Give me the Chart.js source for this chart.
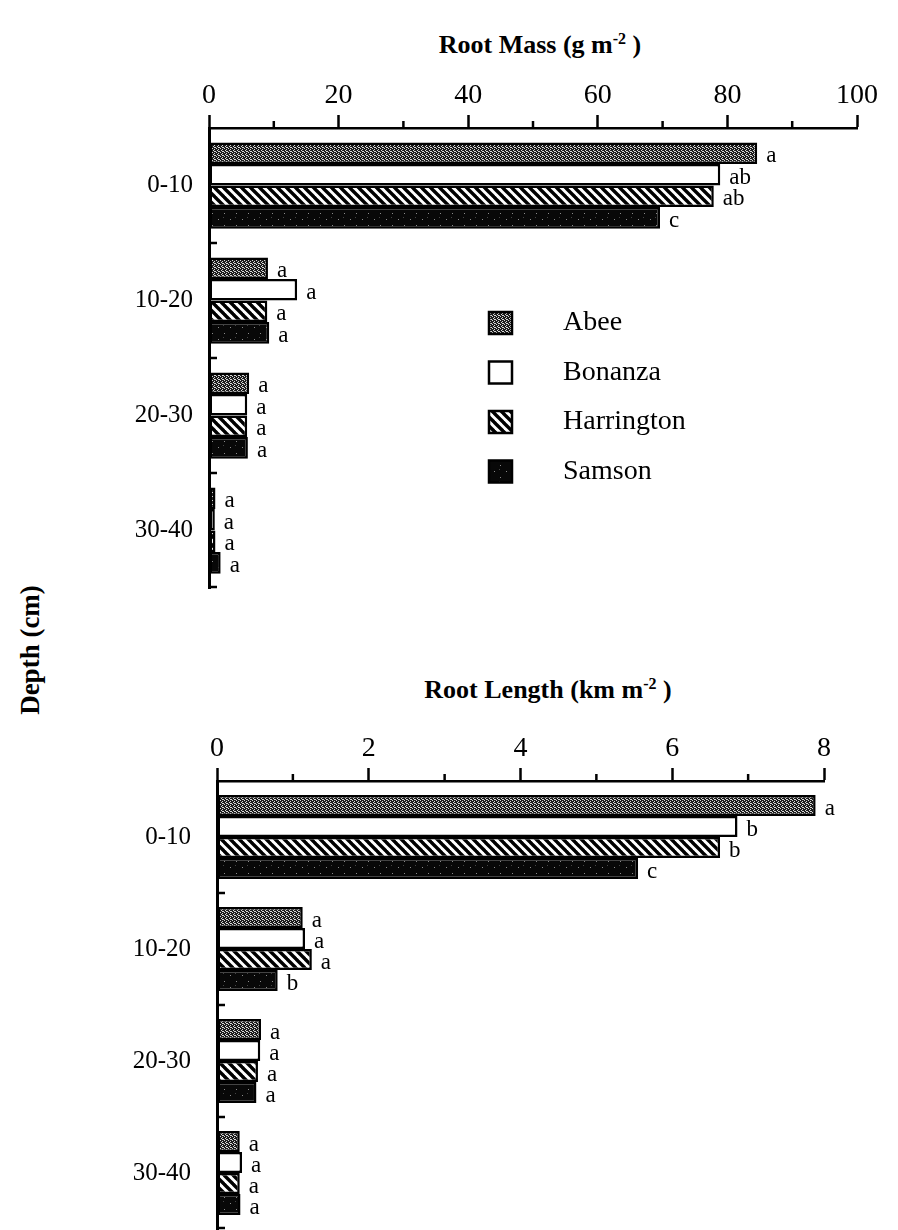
<!DOCTYPE html>
<html>
<head>
<meta charset="utf-8">
<title>Root mass and root length by depth</title>
<script src="https://cdn.jsdelivr.net/npm/chart.js@4.4.1/dist/chart.umd.min.js"></script>
<style>
  body { margin: 0; background: #fff; }
  #page { position: relative; width: 898px; height: 1230px; overflow: hidden;
          font-family: 'Liberation Serif', 'Times New Roman', serif; color: #000; }
  .title { position: absolute; transform: translate(-50%, -50%); font-weight: bold;
           font-size: 26px; white-space: nowrap; }
  .title sup { font-size: 16px; }
  #depth { position: absolute; left: 30px; top: 650px; transform: translate(-50%, -50%) rotate(-90deg);
           font-weight: bold; font-size: 27px; white-space: nowrap; }
  canvas { position: absolute; left: 0; }
</style>
</head>
<body>
<div id="page">
  <div class="title" style="left:540px;top:45px">Root Mass (g m<sup>-2</sup> )</div>
  <div class="title" style="left:548px;top:690px">Root Length (km m<sup>-2</sup> )</div>
  <div id="depth">Depth (cm)</div>
  <canvas id="mass" width="898" height="600" style="top:0"></canvas>
  <canvas id="length" width="898" height="630" style="top:600px"></canvas>
</div>
<script>
const depths = ['0-10', '10-20', '20-30', '30-40'];
const cultivars = ['Abee', 'Bonanza', 'Harrington', 'Samson'];

// root mass, g m-2
const massAbee = [84.6, 9.1, 6.2, 1.0];
const massBonanza = [78.9, 13.6, 5.9, 0.9];
const massHarrington = [77.9, 9.0, 5.9, 1.0];
const massSamson = [69.6, 9.3, 6.0, 1.8];

// root length, km m-2
const lengthAbee = [7.89, 1.13, 0.58, 0.30];
const lengthBonanza = [6.86, 1.16, 0.57, 0.33];
const lengthHarrington = [6.63, 1.25, 0.54, 0.30];
const lengthSamson = [5.55, 0.80, 0.52, 0.31];

// significance letters
const massLetters = [
  ['a', 'a', 'a', 'a'],
  ['ab', 'a', 'a', 'a'],
  ['ab', 'a', 'a', 'a'],
  ['c', 'a', 'a', 'a'],
];
const lengthLetters = [
  ['a', 'a', 'a', 'a'],
  ['b', 'a', 'a', 'a'],
  ['b', 'a', 'a', 'a'],
  ['c', 'b', 'a', 'a'],
];

const SERIF = "'Liberation Serif', 'Times New Roman', serif";

function tile(size, paint) {
  const c = document.createElement('canvas');
  c.width = size;
  c.height = size;
  paint(c.getContext('2d'));
  return document.createElement('canvas').getContext('2d').createPattern(c, 'repeat');
}

const stipple = tile(4, (g) => {
  g.fillStyle = '#1c1c1c';
  g.fillRect(0, 0, 4, 4);
  g.fillStyle = '#d8d8d8';
  [[0, 0], [2, 1], [1, 2], [3, 3], [2, 3]].forEach(([x, y]) => g.fillRect(x, y, 1, 1));
});
const hatch = tile(9, (g) => {
  g.fillStyle = '#fff';
  g.fillRect(0, 0, 9, 9);
  g.strokeStyle = '#000';
  g.lineWidth = 3.4;
  for (let k = -1; k <= 1; k++) {
    g.beginPath();
    g.moveTo(k * 9 - 1, -1);
    g.lineTo(k * 9 + 10, 10);
    g.stroke();
  }
});
const speckle = tile(12, (g) => {
  g.fillStyle = '#080808';
  g.fillRect(0, 0, 12, 12);
  g.fillStyle = '#8a8a8a';
  g.fillRect(2, 3, 1, 1);
  g.fillRect(8, 9, 1, 1);
  g.fillStyle = '#444';
  g.fillRect(7, 1, 1, 1);
});
const fills = [stipple, '#fff', hatch, speckle];

// short ticks: minor x ticks and inner ticks between depth groups
const axisTicks = {
  id: 'axisTicks',
  afterDraw(chart, args, opts) {
    const ctx = chart.ctx;
    const x = chart.scales.x;
    const y = chart.scales.y;
    const area = chart.chartArea;
    ctx.save();
    ctx.strokeStyle = '#000';
    ctx.lineWidth = 2.5;
    x.ticks.forEach((t) => {
      if (t.value % opts.major === 0) return;
      const px = x.getPixelForValue(t.value);
      ctx.beginPath();
      ctx.moveTo(px, area.top);
      ctx.lineTo(px, area.top - 7);
      ctx.stroke();
    });
    for (let i = 1; i <= depths.length; i++) {
      const py = i < depths.length
        ? (y.getPixelForValue(i - 1) + y.getPixelForValue(i)) / 2
        : area.bottom - 1;
      ctx.beginPath();
      ctx.moveTo(area.left, py);
      ctx.lineTo(area.left + 8, py);
      ctx.stroke();
    }
    ctx.restore();
  },
};

const barLetters = {
  id: 'barLetters',
  afterDatasetsDraw(chart) {
    const ctx = chart.ctx;
    ctx.save();
    ctx.fillStyle = '#000';
    ctx.font = '23px ' + SERIF;
    ctx.textAlign = 'left';
    ctx.textBaseline = 'middle';
    chart.data.datasets.forEach((ds, i) => {
      chart.getDatasetMeta(i).data.forEach((bar, j) => {
        ctx.fillText(ds.letters[j], bar.x + 9, bar.y + 3);
      });
    });
    ctx.restore();
  },
};

const boxLegend = {
  id: 'boxLegend',
  afterDraw(chart) {
    const ctx = chart.ctx;
    ctx.save();
    ctx.font = '28px ' + SERIF;
    ctx.textBaseline = 'middle';
    chart.data.datasets.forEach((ds, i) => {
      const cy = 323 + i * 49.5;
      ctx.fillStyle = ds.backgroundColor;
      ctx.fillRect(489, cy - 11, 23, 22);
      ctx.strokeStyle = '#000';
      ctx.lineWidth = 2.5;
      ctx.strokeRect(489, cy - 11, 23, 22);
      ctx.fillStyle = '#000';
      ctx.fillText(ds.label, 563, cy);
    });
    ctx.restore();
  },
};

function barChart(id, series, letters, o) {
  return new Chart(document.getElementById(id), {
    type: 'bar',
    data: {
      labels: depths,
      datasets: series.map((values, i) => ({
        label: cultivars[i],
        data: values,
        letters: letters[i],
        backgroundColor: fills[i],
        borderColor: '#000',
        borderWidth: 2.5,
        borderSkipped: false,
      })),
    },
    options: {
      indexAxis: 'y',
      responsive: false,
      animation: false,
      categoryPercentage: 0.75,
      barPercentage: 1.0,
      layout: { padding: o.padding },
      plugins: {
        legend: { display: false },
        tooltip: { enabled: false },
        axisTicks: { major: o.major },
      },
      scales: {
        x: {
          type: 'linear',
          position: 'top',
          min: 0,
          max: o.max,
          ticks: {
            stepSize: o.step,
            autoSkip: false,
            maxRotation: 0,
            padding: 3,
            color: '#000',
            font: { family: SERIF, size: 28 },
            callback: (v) => (v % o.major === 0 ? v : ''),
          },
          grid: {
            drawOnChartArea: false,
            tickLength: 13,
            tickWidth: 2.5,
            tickColor: (c) => (c.tick && c.tick.value % o.major === 0 ? '#000' : 'rgba(0,0,0,0)'),
          },
          border: { color: '#000', width: 2.5 },
          afterFit: (s) => { s.height = o.xHeight; },
        },
        y: {
          ticks: {
            padding: o.labelGap,
            color: '#000',
            font: { family: SERIF, size: 25 },
          },
          grid: { drawOnChartArea: false, drawTicks: false },
          border: { color: '#000', width: 3 },
          afterFit: (s) => {
            s.width = o.yWidth;
            s.paddingTop = 0;
            s.paddingBottom = 0;
          },
        },
      },
    },
    plugins: o.legend ? [axisTicks, barLetters, boxLegend] : [axisTicks, barLetters],
  });
}

barChart('mass', [massAbee, massBonanza, massHarrington, massSamson], massLetters, {
  max: 100, step: 10, major: 20,
  padding: { top: 60, right: 41, bottom: 12, left: 0 },
  xHeight: 68, yWidth: 209, labelGap: 16, legend: true,
});

barChart('length', [lengthAbee, lengthBonanza, lengthHarrington, lengthSamson], lengthLetters, {
  max: 8, step: 1, major: 2,
  padding: { top: 120, right: 74, bottom: 1, left: 0 },
  xHeight: 61, yWidth: 217, labelGap: 26, legend: false,
});
</script>
</body>
</html>
